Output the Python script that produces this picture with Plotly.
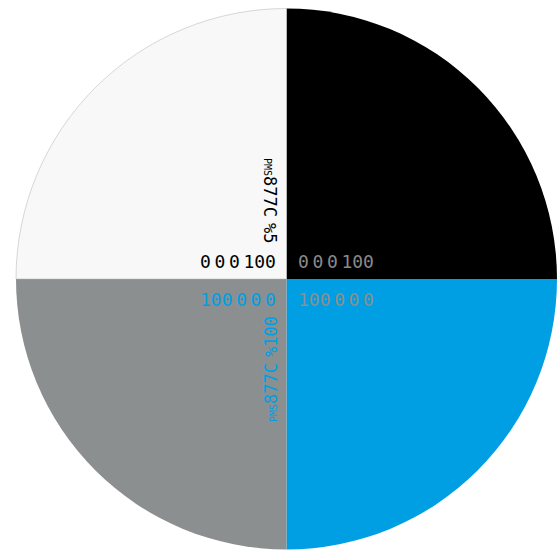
import plotly.graph_objects as go

# Data
slice_labels = ["K 100", "C 100", "PMS 877C 100%", "PMS 877C 5%"]
slice_values = [25, 25, 25, 25]
slice_colors = ["#000000", "#009fe3", "#8c8f8f", "#f8f8f8"]
cmyk_codes = ["0 0 0 100", "100 0 0 0", "100 0 0 0", "0 0 0 100"]
pms_labels = ["877C %5", "877C %100"]

W, H = 557, 556

def px(x):
    return x / W

def py(y):
    return 1 - y / H

def narrow(s, size=6):
    return s.replace(" ", "<span style='font-size:%dpx'>\u00a0</span>" % size)

fig = go.Figure(go.Pie(
    labels=slice_labels,
    values=slice_values,
    marker=dict(colors=slice_colors,
                line=dict(width=[0, 0, 0, 0.5],
                          color=["#000000", "#009fe3", "#8c8f8f", "#b0b0b0"])),
    sort=False,
    direction="clockwise",
    rotation=0,
    textinfo="none",
    hoverinfo="label",
    showlegend=False,
    domain=dict(x=[16 / W, 1.0], y=[4 / H, 550 / H]),
))

mono = "DejaVu Sans Mono"
ann = []
# horizontal CMYK codes
ann.append(dict(x=px(278), y=py(261), text=narrow(cmyk_codes[3]), xanchor="right", yanchor="middle",
                font=dict(family=mono, size=18, color="#000000")))
ann.append(dict(x=px(296), y=py(261), text=narrow(cmyk_codes[0]), xanchor="left", yanchor="middle",
                font=dict(family=mono, size=18, color="#8a8a8a")))
ann.append(dict(x=px(278), y=py(299), text=narrow(cmyk_codes[2]), xanchor="right", yanchor="middle",
                font=dict(family=mono, size=18, color="#009fe3")))
ann.append(dict(x=px(296), y=py(299), text=narrow(cmyk_codes[1]), xanchor="left", yanchor="middle",
                font=dict(family=mono, size=18, color="#8a8f8f")))
# vertical PMS labels
ann.append(dict(x=px(270), y=py(246), text="<span style='font-size:10px'>PMS</span>" + narrow(pms_labels[0], 10),
                textangle=90, xanchor="center", yanchor="bottom",
                font=dict(family=mono, size=17, color="#000000")))
ann.append(dict(x=px(271), y=py(314), text="<span style='font-size:10px'>PMS</span>" + narrow(pms_labels[1], 10),
                textangle=-90, xanchor="center", yanchor="top",
                font=dict(family=mono, size=17, color="#009fe3")))
for a in ann:
    a.update(xref="paper", yref="paper", showarrow=False)

fig.update_layout(
    width=W, height=H,
    margin=dict(l=0, r=0, t=0, b=0),
    paper_bgcolor="#ffffff",
    plot_bgcolor="#ffffff",
    annotations=ann,
)

fig.write_html("out.html", config={"displayModeBar": False},
               post_script="document.body.style.margin='0';")
